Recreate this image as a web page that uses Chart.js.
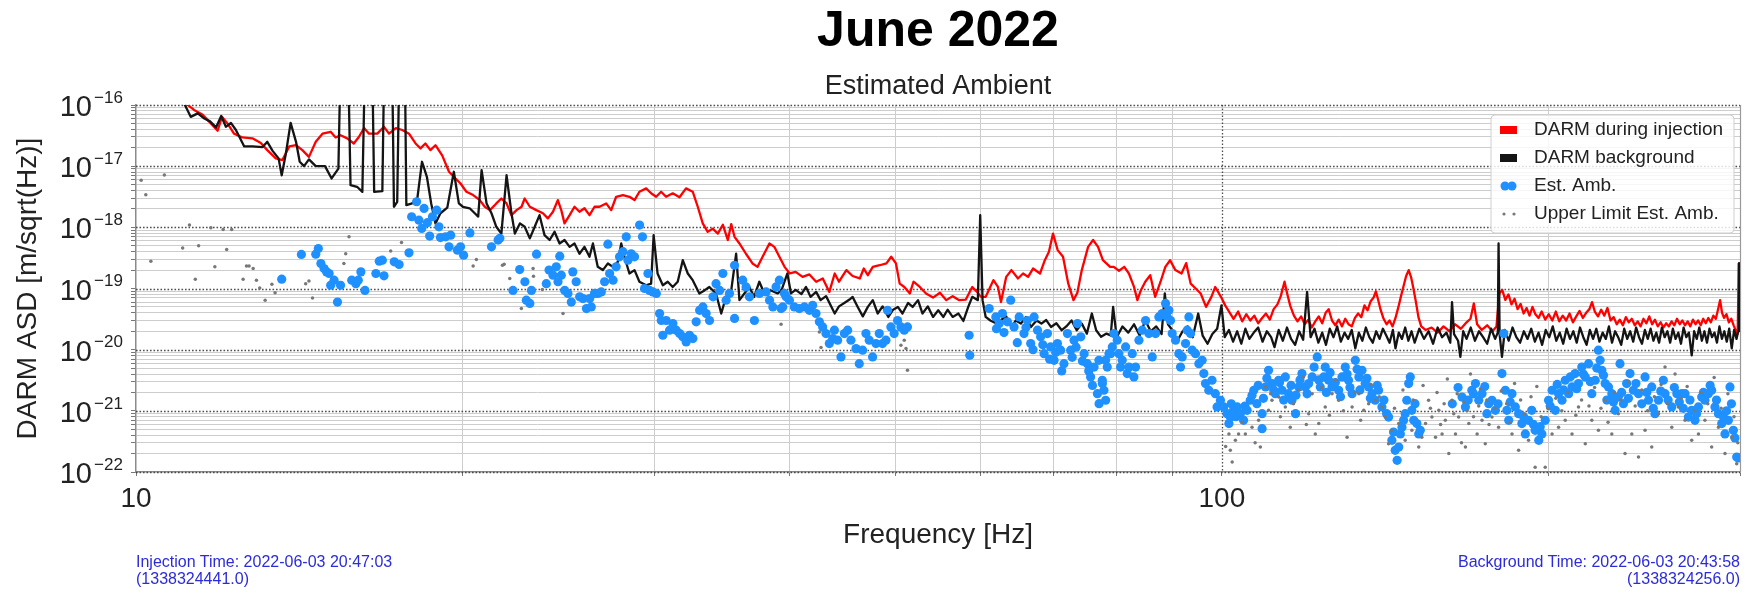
<!DOCTYPE html>
<html>
<head>
<meta charset="utf-8">
<script src="https://cdn.jsdelivr.net/npm/chart.js@4/dist/chart.umd.min.js"></script>
<style>
  html, body { margin: 0; padding: 0; background: #fff; }
  #wrap { position: relative; width: 1754px; height: 598px; }
  canvas { display: block; }
  .note { position: absolute; font: 16px "Liberation Sans", Arial, sans-serif; color: #2b2bdc; line-height: 17px; white-space: nowrap; }
</style>
</head>
<body>
<div id="wrap">
  <canvas id="ambChart" width="1754" height="598"></canvas>
  <div class="note" style="left:136px; top:553px;">Injection Time: 2022-06-03 20:47:03<br>(1338324441.0)</div>
  <div class="note" style="right:14px; top:553px; text-align:right;">Background Time: 2022-06-03 20:43:58<br>(1338324256.0)</div>
</div>
<script>
// [frequency Hz, ASD m/sqrt(Hz)]
const injection = [
  [11.05,1.15e-16],[11.31,8.3e-17],[11.52,6.9e-17],[11.72,5.0e-17],[11.89,3.8e-17],[12.0,6.4e-17],[12.14,5.0e-17],[12.31,3.4e-17],
  [12.53,2.95e-17],[12.8,2.85e-17],[13.03,2.4e-17],[13.21,1.83e-17],[13.45,1.34e-17],[13.64,1.26e-17],[13.84,2.1e-17],[14.04,2.2e-17],
  [14.23,1.83e-17],[14.43,1.42e-17],[14.64,2.5e-17],[14.85,3.4e-17],[15.11,3.65e-17],[15.27,2.95e-17],[15.43,3.2e-17],[15.65,2.85e-17],
  [15.87,2.35e-17],[16.04,3.0e-17],[16.22,4.2e-17],[16.39,3.4e-17],[16.68,3.4e-17],[16.92,4.4e-17],[17.1,3.4e-17],[17.35,4.2e-17],
  [17.59,3.9e-17],[17.84,3.4e-17],[18.09,2.35e-17],[18.28,1.95e-17],[18.47,2.35e-17],[18.67,1.83e-17],[18.87,2.2e-17],[19.14,1.5e-17],
  [19.42,8.1e-18],[19.69,6.3e-18],[19.9,5.2e-18],[20.15,3.82e-18],[20.44,3.37e-18],[20.73,2.79e-18],[20.95,2.17e-18],[21.18,1.91e-18],
  [21.47,2.46e-18],[21.7,2.96e-18],[21.94,2.46e-18],[22.17,1.58e-18],[22.41,1.91e-18],[22.65,2.17e-18],[22.8,2.96e-18],[23.05,2.17e-18],
  [23.37,1.91e-18],[23.7,1.7e-18],[23.95,1.4e-18],[24.21,1.8e-18],[24.46,2.79e-18],[24.64,1.91e-18],[24.81,1.16e-18],[25.08,1.58e-18],
  [25.34,2.17e-18],[25.61,1.8e-18],[25.88,2.05e-18],[26.16,1.58e-18],[26.44,2.17e-18],[26.72,2.17e-18],[27.1,2.46e-18],[27.39,1.91e-18],
  [27.68,3.16e-18],[28.08,3.37e-18],[28.47,3.16e-18],[28.78,2.79e-18],[29.08,3.82e-18],[29.5,4.33e-18],[29.81,3.6e-18],[30.13,3.16e-18],
  [30.45,3.82e-18],[30.77,3.16e-18],[31.21,3.6e-18],[31.66,3.1e-18],[32.1,4.33e-18],[32.56,3.82e-18],[32.91,2.17e-18],[33.26,1.16e-18],
  [33.61,8.45e-19],[33.97,9.5e-19],[34.34,7.9e-19],[34.71,1.1e-18],[35.08,6.2e-19],[35.33,1.13e-18],[35.58,7.0e-19],[35.95,5.45e-19],
  [36.45,3.7e-19],[36.96,2.57e-19],[37.36,2.26e-19],[37.76,3.3e-19],[38.31,5.45e-19],[38.71,4.8e-19],[39.13,3.3e-19],[39.56,2.26e-19],
  [40.0,1.76e-19],[40.5,1.87e-19],[41.1,1.55e-19],[41.7,1.7e-19],[42.3,1.29e-19],[42.9,1.46e-19],[43.5,8.8e-20],[44.0,1.76e-19],
  [44.4,1.29e-19],[45.1,2.0e-19],[45.7,1.6e-19],[46.4,1.46e-19],[46.8,2.12e-19],[47.2,1.65e-19],[47.7,2.26e-19],[48.4,2.4e-19],
  [49.1,2.57e-19],[49.6,3.3e-19],[50.1,2.57e-19],[50.5,1.2e-19],[51.0,1.06e-19],[51.6,8.3e-20],[52.0,1.29e-19],[52.7,1.06e-19],
  [53.4,8.3e-20],[54.2,7.1e-20],[55.0,8.5e-20],[55.75,6.45e-20],[56.5,7.5e-20],[57.3,6.45e-20],[58.1,6.6e-20],[58.9,1.06e-19],
  [59.5,8.8e-20],[60.0,7.3e-20],[60.6,7.3e-20],[61.1,1.0e-19],[61.6,1.37e-19],[62.2,1.06e-19],[62.6,6.0e-20],[63.3,1.55e-19],
  [64.0,2.0e-19],[64.9,1.46e-19],[65.6,1.76e-19],[66.3,1.55e-19],[67.0,2.12e-19],[68.0,1.76e-19],[68.7,2.9e-19],[69.3,3.98e-19],
  [69.9,7.9e-19],[70.6,4.24e-19],[71.4,3.3e-19],[72.2,1.2e-19],[73.0,6.45e-20],[73.6,8.5e-20],[74.3,2.0e-19],[75.3,4.8e-19],
  [76.1,6.2e-19],[76.9,4.8e-19],[77.7,2.9e-19],[78.9,2.26e-19],[79.5,2.26e-19],[80.4,1.95e-19],[81.3,2.26e-19],[82.1,1.76e-19],
  [83.0,1.06e-19],[83.6,6.45e-20],[84.2,9.3e-20],[85.0,1.29e-19],[85.9,1.65e-19],[86.8,7.3e-20],[87.8,1.29e-19],[88.7,2.26e-19],
  [89.6,2.9e-19],[90.6,2.0e-19],[91.8,1.76e-19],[92.7,2.6e-19],[93.6,1.2e-19],[94.6,1.0e-19],[95.6,8.3e-20],[96.7,5.0e-20],
  [97.8,7.3e-20],[98.6,1.06e-19],[99.8,7.3e-20],[100.7,5.3e-20],[101.7,4.0e-20],[102.5,3.2e-20],[103.5,4.2e-20],[104.4,2.9e-20],
  [105.3,3.8e-20],[106.2,3.0e-20],[107.1,3.6e-20],[108.0,2.7e-20],[108.9,3.3e-20],[109.8,3.9e-20],[110.7,3.1e-20],[111.6,4.6e-20],
  [112.5,5.5e-20],[113.3,7.5e-20],[114.2,1.29e-19],[114.9,8.0e-20],[115.6,5.2e-20],[116.5,3.6e-20],[117.4,2.9e-20],[118.3,3.5e-20],
  [119.2,2.6e-20],[120.1,3.1e-20],[121.0,2.3e-20],[121.9,2.9e-20],[122.8,3.5e-20],[123.7,2.7e-20],[124.6,4.0e-20],[125.4,4.6e-20],
  [126.3,3.0e-20],[127.2,2.5e-20],[128.1,3.1e-20],[129.0,2.4e-20],[129.9,3.2e-20],[130.8,2.6e-20],[131.7,2.4e-20],[132.6,3.3e-20],
  [133.5,3.9e-20],[134.4,3.4e-20],[135.3,5.3e-20],[136.2,4.4e-20],[137.1,6.2e-20],[138.0,7.2e-20],[138.6,9.0e-20],[139.3,6.5e-20],
  [140.0,4.5e-20],[140.9,3.2e-20],[141.8,2.6e-20],[142.7,3.0e-20],[143.6,2.4e-20],[144.5,3.3e-20],[145.4,5.0e-20],[146.2,7.5e-20],
  [147.0,1.1e-19],[147.8,1.6e-19],[148.6,2.0e-19],[149.4,1.5e-19],[150.1,1.0e-19],[150.9,6.0e-20],[151.7,3.4e-20],[152.6,2.4e-20],
  [154.0,2.1e-20],[156,2.3e-20],[158,1.9e-20],[160,2.4e-20],[162,2.0e-20],[164,2.6e-20],[166,2.2e-20],[168,2.8e-20],
  [169.4,3.2e-20],[170.6,5.7e-20],[171.8,2.6e-20],[173.5,2.1e-20],[175.5,2.5e-20],[177.5,2.0e-20],[179.0,2.4e-20],[180.1,8.3e-20],
  [181.2,9.5e-20],[182.4,6.5e-20],[183.6,8.0e-20],[184.8,5.5e-20],[186.0,6.8e-20],[187.2,4.6e-20],[188.4,5.6e-20],[189.6,3.9e-20],
  [190.8,4.8e-20],[192.0,3.6e-20],[193.2,5.0e-20],[194.4,3.8e-20],[195.7,3.3e-20],[197.0,4.2e-20],[198.5,3.1e-20],[200.0,3.8e-20],
  [201.5,3.0e-20],[203.0,4.2e-20],[204.5,2.9e-20],[206.0,3.6e-20],[207.5,3.0e-20],[209.0,3.9e-20],[210.5,2.8e-20],[212.0,3.5e-20],
  [213.5,4.3e-20],[215.0,3.3e-20],[216.5,4.0e-20],[218.0,4.6e-20],[219.2,6.0e-20],[220.5,4.2e-20],[222.0,3.5e-20],[223.5,4.5e-20],
  [225.0,3.6e-20],[226.5,4.8e-20],[228.0,3.0e-20],[229.5,3.4e-20],[231.0,2.6e-20],[232.5,3.1e-20],[234.0,2.5e-20],[235.5,3.4e-20],
  [237.0,2.8e-20],[238.5,3.2e-20],[240.0,2.5e-20],[241.5,2.9e-20],[243.0,2.4e-20],[244.5,3.2e-20],[246.0,2.7e-20],[247.5,3.5e-20],
  [249.0,2.6e-20],[250.5,3.1e-20],[252.0,2.4e-20],[253.5,2.8e-20],[255.0,2.3e-20],[256.5,2.7e-20],[258.0,2.4e-20],[259.5,2.9e-20],
  [261.0,2.5e-20],[262.5,3.2e-20],[264.0,2.6e-20],[265.5,3.0e-20],[267.0,2.5e-20],[268.5,2.9e-20],[270.0,2.4e-20],[271.5,3.1e-20],
  [273.0,2.6e-20],[274.5,3.0e-20],[276.0,2.5e-20],[277.5,3.2e-20],[279.0,2.7e-20],[280.5,3.3e-20],[282.0,2.8e-20],[283.5,3.6e-20],
  [285.0,3.2e-20],[286.3,4.5e-20],[287.6,6.45e-20],[288.8,4.0e-20],[290.0,3.3e-20],[291.5,3.8e-20],[293.0,2.8e-20],[294.5,3.2e-20],
  [296.0,2.5e-20],[297.5,2.0e-20],[298.5,1.8e-20],[299.3,2.57e-19],[301,2.57e-19]
];

const background = [
  [11.05,1.15e-16],[11.23,6.4e-17],[11.4,7.3e-17],[11.56,6.0e-17],[11.7,5.4e-17],[11.85,4.3e-17],[11.98,6.6e-17],[12.1,4.4e-17],
  [12.23,5.1e-17],[12.36,3.9e-17],[12.58,2.1e-17],[12.8,2.1e-17],[13.08,2.05e-17],[13.21,2.5e-17],[13.36,1.78e-17],[13.53,1.34e-17],
  [13.62,7.1e-18],[13.74,1.6e-17],[13.88,5.1e-17],[14.04,2.5e-17],[14.15,1.18e-17],[14.28,1.0e-17],[14.43,1.29e-17],[14.64,1.0e-17],
  [14.93,1.0e-17],[15.14,6.3e-18],[15.36,9.1e-18],[15.42,3e-16],[15.69,3e-16],[15.76,4.9e-18],[15.98,4.6e-18],[16.16,3.8e-18],
  [16.24,3e-16],[16.51,3e-16],[16.57,3.8e-18],[16.86,3.9e-18],[16.92,3e-16],[17.22,3e-16],[17.28,2.17e-18],[17.4,2.6e-18],
  [17.47,3e-16],[17.69,3e-16],[17.74,2.3e-18],[17.96,2.46e-18],[18.15,2.79e-18],[18.34,1.18e-17],[18.53,6.7e-18],[18.7,2.46e-18],
  [18.87,1.16e-18],[19.07,1.7e-18],[19.35,2.1e-18],[19.62,8.1e-18],[19.83,2.46e-18],[20.0,2.17e-18],[20.29,2.05e-18],[20.51,1.7e-18],
  [20.66,1.5e-18],[20.81,8.6e-18],[21.03,2.46e-18],[21.25,1.7e-18],[21.47,1.02e-18],[21.7,7.9e-19],[21.94,7.1e-18],[22.17,1.7e-18],
  [22.33,7.9e-19],[22.57,1.16e-18],[22.8,1.02e-18],[23.05,6.6e-19],[23.29,1.02e-18],[23.53,1.58e-18],[23.78,7.45e-19],[24.04,6.2e-19],
  [24.29,8.45e-19],[24.55,5.45e-19],[24.81,6.2e-19],[25.08,4.8e-19],[25.34,5.45e-19],[25.61,3.7e-19],[25.88,4.8e-19],[26.16,3.3e-19],
  [26.35,5.45e-19],[26.62,2.26e-19],[26.91,2.0e-19],[27.2,2.57e-19],[27.49,2.26e-19],[27.78,2.73e-19],[27.98,5.45e-19],[28.17,3.3e-19],
  [28.47,1.76e-19],[28.78,2.0e-19],[29.08,1.29e-19],[29.5,1.13e-19],[29.81,1.2e-19],[29.97,7.45e-19],[30.22,1.76e-19],[30.56,1.13e-19],
  [30.88,1.29e-19],[31.21,1.06e-19],[31.54,1.29e-19],[31.88,2.9e-19],[32.22,1.76e-19],[32.56,1.37e-19],[33.02,8.3e-20],[33.38,9.3e-20],
  [33.73,1.06e-19],[34.21,8.3e-20],[34.59,3.9e-20],[34.94,7.3e-20],[35.33,9.3e-20],[35.7,3.7e-19],[35.95,6.45e-20],[36.33,8.3e-20],
  [36.71,1.06e-19],[37.09,7.3e-20],[37.5,1.29e-19],[37.9,8.3e-20],[38.44,9.3e-20],[38.99,8.3e-20],[39.3,9.3e-20],[39.6,1.37e-19],
  [39.8,1.76e-19],[40.1,8.3e-20],[40.5,9.5e-20],[41.0,8.1e-20],[41.4,1.06e-19],[41.8,7.3e-20],[42.3,8.8e-20],[42.7,6.45e-20],
  [43.2,7.5e-20],[43.7,5.0e-20],[44.0,3.9e-20],[44.4,5.1e-20],[44.9,5.8e-20],[45.4,6.6e-20],[45.7,7.3e-20],[46.2,5.0e-20],
  [46.7,3.5e-20],[47.2,5.0e-20],[47.7,6.45e-20],[48.2,3.9e-20],[48.7,5.1e-20],[49.3,3.43e-20],[49.8,4.5e-20],[50.3,5.0e-20],
  [50.8,3.9e-20],[51.4,5.8e-20],[51.9,5.0e-20],[52.5,6.45e-20],[53.0,3.9e-20],[53.6,5.1e-20],[54.2,3.43e-20],[54.8,4.4e-20],
  [55.4,3.43e-20],[55.9,4.5e-20],[56.5,3.43e-20],[57.2,3.9e-20],[57.8,2.95e-20],[58.4,5.0e-20],[58.9,7.3e-20],[59.6,6.45e-20],
  [59.9,1.58e-18],[60.2,6.45e-20],[60.6,3.43e-20],[61.2,3.0e-20],[62.0,2.67e-20],[62.6,3.05e-20],[63.3,3.5e-20],[64.0,2.35e-20],
  [64.6,3.0e-20],[65.3,2.67e-20],[66.0,3.43e-20],[66.7,2.35e-20],[67.5,3.0e-20],[68.2,2.67e-20],[68.9,3.05e-20],[69.6,2.35e-20],
  [70.4,2.7e-20],[71.2,2.08e-20],[71.9,2.4e-20],[72.7,3.0e-20],[73.5,2.08e-20],[74.3,2.67e-20],[75.1,1.83e-20],[75.9,3.9e-20],
  [76.6,2.08e-20],[77.4,1.62e-20],[78.3,1.83e-20],[79,1.7e-20],[79.4,5.0e-20],[80,1.6e-20],[81,2.4e-20],[82,1.9e-20],
  [83,2.6e-20],[84,1.7e-20],[85,3.0e-20],[86,2.0e-20],[87,2.4e-20],[88,1.8e-20],[88.6,8.3e-20],[89.2,2.6e-20],
  [90,2.1e-20],[91,1.4e-20],[92,2.0e-20],[93,2.4e-20],[94,1.6e-20],[95.1,3.9e-20],[96,1.7e-20],[97,1.25e-20],
  [98,1.8e-20],[99,2.2e-20],[99.9,5.3e-20],[100.6,1.6e-20],[101.5,2.1e-20],[102.4,1.35e-20],[103.3,2.0e-20],[104.2,1.25e-20],
  [105.1,2.2e-20],[106,1.5e-20],[107,1.9e-20],[108,2.3e-20],[109,1.35e-20],[110,2.0e-20],[111,1.6e-20],[111.8,1.1e-20],
  [112.8,2.1e-20],[113.8,1.4e-20],[114.8,2.3e-20],[115.8,1.5e-20],[116.8,1.2e-20],[117.8,2.0e-20],[118.8,1.45e-20],[119.8,8.8e-20],
  [120.7,1.6e-20],[121.7,2.2e-20],[122.7,1.3e-20],[123.7,1.9e-20],[124.7,1.2e-20],[125.7,2.2e-20],[126.7,1.6e-20],[127.7,2.4e-20],
  [128.7,1.35e-20],[129.7,1.9e-20],[130.7,1.5e-20],[131.7,2.1e-20],[132.7,1.05e-20],[133.7,1.9e-20],[134.7,1.4e-20],[135.7,2.3e-20],
  [136.7,1.6e-20],[137.7,1.3e-20],[138.7,2.0e-20],[139.7,1.5e-20],[140.7,2.2e-20],[141.7,1.7e-20],[142.7,1.3e-20],[143.7,2.1e-20],
  [144.5,1.05e-20],[145.5,1.9e-20],[146.5,1.5e-20],[147.5,2.3e-20],[148.5,1.4e-20],[149.5,2.0e-20],[150.5,1.3e-20],[152,2.2e-20],
  [153.5,1.5e-20],[155,2.0e-20],[156.5,1.25e-20],[158,2.3e-20],[159.5,1.6e-20],[161,1.9e-20],[162.3,1.3e-20],[162.9,6.0e-20],
  [163.6,1.8e-20],[165,1.4e-20],[165.8,7.6e-21],[166.8,2.0e-20],[168,1.5e-20],[169.5,2.3e-20],[171,1.4e-20],[172.5,2.0e-20],
  [174,1.6e-20],[175.5,1.25e-20],[177,2.2e-20],[178.5,1.5e-20],[179.5,1.9e-20],[179.8,5.45e-19],[180.2,1.8e-20],[181.1,7.6e-21],
  [182.2,2.1e-20],[183.7,1.4e-20],[185.2,2.3e-20],[186.7,1.6e-20],[188.2,1.3e-20],[189.7,2.0e-20],[191.2,1.5e-20],[192.7,2.2e-20],
  [194.2,1.35e-20],[195.7,1.9e-20],[197.2,1.2e-20],[198.7,2.1e-20],[200.2,1.6e-20],[201.7,2.4e-20],[203.2,1.4e-20],[204.7,1.9e-20],
  [206.2,1.25e-20],[207.7,2.2e-20],[209.2,1.5e-20],[210.7,2.0e-20],[212.2,1.3e-20],[213.7,2.3e-20],[215.2,1.6e-20],[216.7,1.2e-20],
  [218.2,2.1e-20],[219.7,1.5e-20],[221.2,2.2e-20],[222.7,1.35e-20],[224.2,1.9e-20],[225.7,1.5e-20],[227.2,2.4e-20],[228.7,1.3e-20],
  [230.2,2.0e-20],[231.7,1.6e-20],[233.2,1.2e-20],[234.7,2.2e-20],[236.2,1.5e-20],[237.7,2.0e-20],[239.2,1.35e-20],[240.7,2.3e-20],
  [242.2,1.6e-20],[243.7,1.25e-20],[245.2,2.1e-20],[246.7,1.5e-20],[248.2,2.2e-20],[249.7,1.4e-20],[251.2,1.9e-20],[252.7,1.3e-20],
  [254.2,2.3e-20],[255.7,1.6e-20],[257.2,2.0e-20],[258.7,1.3e-20],[260.2,2.2e-20],[261.7,1.5e-20],[263.2,1.9e-20],[264.7,1.25e-20],
  [266.2,2.3e-20],[267.7,1.6e-20],[269.2,1.9e-20],[270.8,8.1e-21],[272.2,2.0e-20],[273.7,1.5e-20],[275.2,2.3e-20],[276.7,1.4e-20],
  [278.2,2.0e-20],[279.7,1.3e-20],[281.2,2.2e-20],[282.7,1.6e-20],[284.2,1.9e-20],[285.7,1.3e-20],[287.2,2.4e-20],[288.7,1.5e-20],
  [290.2,2.0e-20],[291.7,1.35e-20],[293.2,2.2e-20],[294.8,1.05e-20],[296.3,2.1e-20],[297.8,1.5e-20],[298.8,2.0e-20],[299.3,2.57e-19],
  [301,2.57e-19]
];

const estAmb = [
  [13.62,1.42e-19],[14.2,3.6e-19],[14.64,3.64e-19],[14.72,4.5e-19],[14.8,2.56e-19],[14.9,2.12e-19],[14.98,1.87e-19],[15.06,1.76e-19],
  [15.11,1.13e-19],[15.22,1.37e-19],[15.33,6.0e-20],[15.43,1.13e-19],[15.8,1.37e-19],[15.94,1.2e-19],[16.02,1.37e-19],[16.11,1.87e-19],
  [16.25,9.3e-20],[16.63,1.76e-19],[16.75,2.8e-19],[16.86,2.9e-19],[16.92,1.61e-19],[17.29,2.73e-19],[17.47,2.47e-19],[17.84,3.83e-19],
  [17.94,1.49e-18],[18.13,2.62e-18],[18.22,1.31e-18],[18.33,9.6e-19],[18.42,2.04e-18],[18.55,1.19e-18],[18.64,7.2e-19],[18.75,1.49e-18],
  [18.92,1.91e-18],[19.01,1.02e-18],[19.07,6.8e-19],[19.28,7.0e-19],[19.42,4.8e-19],[19.49,7.45e-19],[19.77,4.24e-19],[19.9,4.8e-19],
  [20.03,3.5e-19],[20.3,8.1e-19],[21.25,4.8e-19],[21.55,6.2e-19],[21.63,6.6e-19],[22.24,9.3e-20],[22.56,2.04e-19],[22.81,1.29e-19],
  [22.88,6.45e-20],[23.05,5.7e-20],[23.13,9.3e-20],[23.38,3.64e-19],[23.87,1.2e-19],[24.01,2.0e-19],[24.21,1.65e-19],[24.38,2.26e-19],
  [24.47,1.29e-19],[24.56,3.38e-19],[24.64,1.65e-19],[24.82,9.3e-20],[24.99,8.3e-20],[25.17,6.0e-20],[25.25,1.87e-19],[25.43,1.29e-19],
  [25.62,7.3e-20],[25.8,6.85e-20],[25.99,4.7e-20],[26.17,6.85e-20],[26.26,5.0e-20],[26.44,8.3e-20],[26.63,8.3e-20],[26.82,8.8e-20],
  [27.01,1.29e-19],[27.2,5.3e-19],[27.3,1.76e-19],[27.5,1.37e-19],[27.68,2.26e-19],[27.88,3.3e-19],[28.08,4.0e-19],[28.28,7.0e-19],
  [28.38,2.9e-19],[28.58,3.7e-19],[28.78,3.3e-19],[29.09,1.09e-18],[29.27,7.0e-19],[29.4,1.0e-19],[29.61,1.76e-19],[29.71,9.3e-20],
  [29.92,8.8e-20],[30.14,8.3e-20],[30.35,3.9e-20],[30.46,3.0e-20],[30.56,1.72e-20],[30.78,3.0e-20],[31.0,2.08e-20],[31.22,2.67e-20],
  [31.44,2.08e-20],[31.67,1.83e-20],[31.88,1.62e-20],[32.11,1.34e-20],[32.34,1.72e-20],[32.57,1.52e-20],[32.8,2.85e-20],[33.04,4.4e-20],
  [33.27,5.0e-20],[33.5,3.9e-20],[33.74,3.0e-20],[33.99,7.3e-20],[34.21,1.2e-19],[34.47,9.3e-20],[34.71,1.76e-19],[34.95,6.45e-20],
  [35.2,8.3e-20],[35.58,2.4e-19],[35.58,3.24e-20],[36.2,1.37e-19],[36.46,1.06e-19],[36.72,7.3e-20],[37.11,3.0e-20],[37.51,8.3e-20],
  [38.04,8.8e-20],[38.32,6.45e-20],[38.59,5.0e-20],[38.85,1.06e-19],[39.27,4.7e-20],[39.55,8.3e-20],[39.13,1.37e-19],[39.41,5.0e-20],
  [39.69,7.3e-20],[39.97,6.45e-20],[40.39,5.0e-20],[40.82,4.7e-20],[41.26,5.0e-20],[41.7,4.4e-20],[41.99,5.3e-20],[42.29,3.9e-20],
  [42.59,2.85e-20],[42.89,2.35e-20],[43.19,1.83e-20],[43.5,1.26e-20],[43.81,1.52e-20],[43.97,2.08e-20],[44.27,1.43e-20],[44.59,7.6e-21],
  [44.91,1.83e-20],[45.22,2.08e-20],[45.54,1.43e-20],[46.03,1.04e-20],[46.35,5.9e-21],[46.68,9.8e-21],[47.01,1.83e-20],[47.34,1.43e-20],
  [47.68,7.6e-21],[48.02,1.26e-20],[48.36,1.83e-20],[48.69,1.26e-20],[49.05,1.43e-20],[49.21,4.4e-20],[49.56,2.35e-20],[49.91,1.83e-20],
  [50.27,3.0e-20],[50.63,2.35e-20],[50.99,2.08e-20],[51.34,2.35e-20],[58.51,1.72e-20],[58.59,8.1e-21],[61.05,4.7e-20],[61.91,3.43e-20],
  [62.0,2.2e-20],[62.36,2.67e-20],[62.79,3.9e-20],[63.0,1.9e-20],[63.46,2.85e-20],[63.9,6.45e-20],[64.36,2.35e-20],[64.8,1.3e-20],
  [65.06,3.43e-20],[65.73,1.83e-20],[66.0,2.3e-20],[66.2,3.0e-20],[66.67,1.26e-20],[67.0,1.0e-20],[67.15,3.43e-20],[67.64,2.08e-20],
  [68.09,1.62e-20],[68.4,1.2e-20],[68.59,8.6e-21],[69.08,1.83e-20],[69.4,7.0e-21],[69.55,1.11e-20],[70.06,6.7e-21],[70.3,9.0e-21],
  [70.56,1.26e-20],[71.04,9.8e-21],[71.2,4.5e-21],[71.54,5.9e-21],[72.07,1.83e-20],[72.56,9.8e-21],[72.8,7.5e-21],[73.09,1.43e-20],
  [73.4,1.1e-20],[73.62,2.67e-20],[74.14,1.62e-20],[74.4,6.5e-21],[74.67,8.6e-21],[75.18,5.9e-21],[75.4,4.5e-21],[75.7,3.58e-21],
  [76.0,2.6e-21],[76.26,5.2e-21],[76.8,1.91e-21],[77.07,1.31e-21],[77.61,2.79e-21],[78.14,6.7e-21],[78.71,8.6e-21],[77.05,6.7e-21],
  [77.6,3.16e-21],[77.87,2.17e-21],[78.15,1.49e-21],[78.42,5.2e-21],[78.98,8.6e-21],[79.26,1.11e-20],[79.54,1.83e-20],[80.1,1.43e-20],
  [80.38,8.6e-21],[80.67,5.2e-21],[80.95,6.7e-21],[81.53,1.11e-20],[81.82,4.06e-21],[82.11,5.2e-21],[82.69,8.6e-21],[82.98,3.58e-21],
  [83.27,5.2e-21],[83.87,1.43e-20],[84.46,2.08e-20],[85.06,3.0e-20],[85.66,1.83e-20],[86.27,7.6e-21],[86.88,1.83e-20],[87.49,3.43e-20],
  [88.11,3.9e-20],[88.74,5.7e-20],[89.05,3.43e-20],[89.37,4.4e-20],[89.68,3.0e-20],[90.0,1.83e-20],[90.64,1.43e-20],[91.28,8.6e-21],
  [91.6,5.2e-21],[91.93,7.6e-21],[92.58,1.26e-20],[92.91,2.08e-20],[93.24,3.43e-20],[93.56,1.83e-20],[93.9,9.8e-21],[94.56,8.6e-21],
  [95.23,5.9e-21],[95.9,6.7e-21],[96.24,4.06e-21],[96.58,2.79e-21],[97.26,2.17e-21],[97.93,3.16e-21],[98.62,1.91e-21],[98.98,1.16e-21],
  [99.69,1.49e-21],[100.4,1.16e-21],[101.1,9.0e-22],[101.5,6.2e-22],[101.8,7.9e-22],[102.0,1.3e-21],[102.5,1.02e-21],[103.0,8.0e-22],
  [103.3,1.16e-21],[104.0,9.0e-22],[104.7,7.0e-22],[105.0,1.2e-21],[105.5,1.02e-21],[106.2,1.49e-21],[106.6,1.8e-21],[107.0,2.17e-21],
  [107.7,1.31e-21],[108.0,2.6e-21],[108.9,9.0e-22],[108.9,5.1e-22],[109.2,1.6e-21],[109.7,2.46e-21],[110.0,3.4e-21],[110.4,4.6e-21],
  [111.2,2.79e-21],[111.6,2.2e-21],[112.0,1.91e-21],[112.8,3.16e-21],[113.0,2.9e-21],[113.6,2.17e-21],[114.0,1.5e-21],[114.4,3.58e-21],
  [115.2,1.91e-21],[115.8,2.6e-21],[116.0,1.49e-21],[116.9,9.0e-22],[117.0,1.8e-21],[117.7,2.46e-21],[118.0,3.2e-21],[118.5,4.06e-21],
  [119.4,2.46e-21],[119.8,1.9e-21],[120.2,2.79e-21],[121.1,3.58e-21],[121.6,5.2e-21],[122.4,7.6e-21],[122.8,3.2e-21],[123.2,2.46e-21],
  [124.1,3.58e-21],[124.5,5.2e-21],[124.8,2.0e-21],[125.4,3.16e-21],[125.8,4.2e-21],[126.3,2.46e-21],[127.2,2.9e-21],[128.1,2.17e-21],
  [128.6,1.7e-21],[129.0,3.58e-21],[129.9,5.2e-21],[130.4,4.0e-21],[130.8,3.16e-21],[131.2,2.4e-21],[131.8,1.91e-21],[132.7,6.7e-21],
  [133.2,4.8e-21],[133.7,3.58e-21],[134.0,2.2e-21],[134.6,4.6e-21],[135.5,2.79e-21],[136.0,3.4e-21],[136.5,2.46e-21],[137.0,1.6e-21],
  [137.5,1.91e-21],[138.4,1.49e-21],[139.0,2.6e-21],[139.4,2.17e-21],[140.4,1.16e-21],[141.0,1.5e-21],[141.8,9.0e-22],[142.4,7.9e-22],
  [143.4,3.3e-22],[143.9,4.5e-22],[144.4,2.26e-22],[145.0,1.55e-22],[145.5,2.56e-22],[146.0,4.2e-22],[146.5,5.4e-22],[147.0,7.0e-22],
  [147.5,9.0e-22],[148.0,1.49e-21],[148.6,2.79e-21],[149.1,3.58e-21],[149.6,1.02e-21],[150.2,7.0e-22],[150.6,1.31e-21],[151.2,6.2e-22],
  [151.8,4.2e-22],[152.3,4.8e-22],[163.0,1.3e-21],[165.0,2.4e-21],[166.4,1.68e-21],[167.6,1.16e-21],[168.6,1.5e-21],[169.9,2.17e-21],
  [170.5,1.9e-21],[171.2,2.79e-21],[172.4,1.49e-21],[173.6,1.91e-21],[174.6,2.5e-21],[175.4,9.0e-22],[176.1,1.31e-21],[177.3,1.49e-21],
  [178.6,1.02e-21],[179.6,1.3e-21],[181.1,4.06e-21],[181.8,1.83e-20],[182.4,2.17e-21],[183.0,1.02e-21],[183.7,7.0e-22],[184.3,1.4e-21],
  [185.0,1.91e-21],[186.3,1.16e-21],[187.6,9.0e-22],[188.9,6.2e-22],[189.6,8.0e-22],[190.3,4.2e-22],[191.6,7.0e-22],[192.9,1.02e-21],
  [193.6,6.0e-22],[194.3,4.8e-22],[195.8,3.3e-22],[196.4,5.5e-22],[197.1,4.2e-22],[198.5,7.0e-22],[199.9,1.49e-21],[200.6,1.2e-21],
  [201.4,2.17e-21],[202.8,1.02e-21],[203.6,2.7e-21],[204.2,1.91e-21],[205.7,1.49e-21],[206.4,2.2e-21],[207.1,3.16e-21],[208.6,1.91e-21],
  [209.4,3.6e-21],[210.1,2.46e-21],[211.5,4.06e-21],[212.2,2.3e-21],[213.0,2.79e-21],[214.5,5.2e-21],[215.2,4.0e-21],[216.1,3.58e-21],
  [217.6,5.9e-21],[218.4,3.0e-21],[219.1,1.91e-21],[220.7,3.16e-21],[221.4,5.0e-21],[222.2,9.8e-21],[223.0,6.7e-21],[223.8,4.6e-21],
  [224.6,3.8e-21],[225.4,2.79e-21],[226.2,1.5e-21],[227.0,2.46e-21],[228.6,1.91e-21],[229.4,1.4e-21],[230.2,1.02e-21],[231.8,1.68e-21],
  [232.6,5.9e-21],[233.4,2.0e-21],[234.3,1.31e-21],[235.9,2.79e-21],[236.8,1.6e-21],[237.6,4.06e-21],[239.3,2.17e-21],[240.6,2.8e-21],
  [241.9,1.91e-21],[243.6,1.3e-21],[245.3,3.58e-21],[246.2,2.0e-21],[247.1,1.49e-21],[248.8,2.46e-21],[249.6,1.1e-21],[250.5,9.0e-22],
  [252.4,1.49e-21],[253.6,2.1e-21],[255.0,3.16e-21],[255.9,1.91e-21],[257.6,1.5e-21],[259.6,1.16e-21],[261.0,2.4e-21],[262.4,1.91e-21],
  [263.8,1.4e-21],[265.2,1.91e-21],[266.0,1.1e-21],[267.0,1.91e-21],[268.9,7.9e-22],[269.8,1.5e-21],[270.8,1.02e-21],[272.7,7.0e-22],
  [273.6,9.0e-22],[274.7,1.16e-21],[276.6,1.68e-21],[277.6,2.0e-21],[278.5,1.49e-21],[280.5,1.91e-21],[281.6,2.6e-21],[282.5,2.17e-21],
  [284.5,1.16e-21],[285.4,1.5e-21],[286.6,9.0e-22],[288.6,6.2e-22],[289.6,8.0e-22],[290.6,4.2e-22],[291.6,1.0e-21],[292.7,7.0e-22],
  [293.7,2.46e-21],[294.6,1.3e-21],[295.8,4.8e-22],[296.8,3.6e-22],[297.9,1.76e-22],[299.0,1.7e-22]
];

const upperLimit = [
  [10.11,5.9e-18],[10.21,3.4e-18],[10.32,2.8e-19],[10.62,7.2e-18],[11.04,4.6e-19],[11.2,1.09e-18],[11.34,1.41e-19],[11.42,5.0e-19],
  [11.72,9.8e-19],[11.82,2.26e-19],[12.03,9.2e-19],[12.12,4.35e-19],[12.25,9.2e-19],[12.55,1.42e-19],[12.64,2.34e-19],[12.71,2.34e-19],
  [12.82,2.12e-19],[12.91,1.37e-19],[13.0,1.02e-19],[13.15,6.45e-20],[13.34,1.17e-19],[13.43,8.5e-20],[14.33,1.2e-19],[14.43,1.32e-19],
  [14.54,7.0e-20],[15.54,2.57e-19],[15.6,3.7e-19],[15.71,7.0e-19],[17.16,4.1e-19],[17.56,5.65e-19],[20.44,2.34e-19],[20.58,2.98e-19],
  [21.75,2.4e-19],[21.83,2.5e-19],[22.09,1.46e-19],[22.64,4.7e-20],[23.21,2.12e-19],[23.23,1.59e-19],[23.67,9.6e-20],[24.73,3.9e-20],
  [39.27,2.6e-20],[42.59,1.95e-20],[42.74,1.08e-20],[50.63,1.18e-20],[50.99,1.43e-20],[51.18,1.04e-20],[51.34,4.6e-21],
  [100.8,2.6e-22],[101.5,4.2e-22],[101.8,2.26e-22],[102.2,1.46e-22],[102.9,3.3e-22],[103.6,4.2e-22],[104.4,6.5e-22],[105.1,4.2e-22],
  [106.6,5.4e-22],[107.3,3.0e-22],[108.1,7.0e-22],[108.5,2.56e-22],[109.7,2.46e-21],[110.4,1.02e-21],[110.9,1.9e-21],[111.2,1.49e-21],
  [112.8,1.68e-21],[113.2,8.0e-22],[114.4,1.16e-21],[115.6,5.4e-22],[116.4,1.3e-21],[117.7,2.17e-21],[118.9,3.58e-21],[119.6,6.0e-22],
  [120.2,9.0e-22],[121.1,1.91e-21],[121.9,4.2e-22],[122.8,6.2e-22],[123.6,2.4e-21],[124.5,1.16e-21],[125.6,8.5e-22],[126.3,1.91e-21],
  [127.2,3.2e-21],[128.1,1.49e-21],[129.4,1.0e-21],[130.4,3.7e-22],[131.8,1.16e-21],[132.5,2.0e-21],[133.7,1.91e-21],[134.2,7.0e-22],
  [135.1,1.02e-21],[136.5,1.31e-21],[137.2,2.7e-21],[138.4,1.49e-21],[139.6,1.7e-21],[140.4,1.16e-21],[141.4,7.9e-22],[142.4,2.9e-22],
  [143.4,4.8e-22],[144.2,1.1e-21],[145.5,6.2e-22],[146.8,2.2e-21],[147.5,3.3e-22],[149.6,4.8e-22],[150.0,1.5e-21],[151.8,2.56e-22],
  [152.8,3.7e-22],[153.2,2.6e-21],[154.0,6.2e-22],[155.0,1.49e-21],[155.6,1.1e-21],[156.1,7.9e-22],[157.3,3.7e-22],[157.8,2.0e-21],
  [158.4,1.02e-21],[159.0,6.0e-22],[159.5,4.2e-22],[160.2,1.3e-21],[160.6,7.0e-22],[161.3,3.3e-21],[161.8,2.0e-22],[162.9,1.49e-21],
  [163.5,9.0e-22],[164.1,4.2e-22],[164.7,1.9e-21],[165.2,7.9e-22],[166.2,3.0e-22],[167.0,1.4e-21],[167.6,2.56e-22],[168.2,1.0e-21],
  [168.8,6.2e-22],[169.4,4.0e-21],[170.5,8.0e-22],[171.8,4.2e-22],[172.4,1.2e-21],[173.0,2.3e-21],[173.6,7.0e-22],[174.8,2.9e-22],
  [175.4,1.5e-21],[176.2,6.0e-22],[177.3,7.9e-22],[178.4,1.1e-21],[179.8,5.4e-22],[180.8,2.1e-21],[182.9,1.3e-21],[184.2,6.5e-22],
  [185.0,4.2e-22],[186.0,2.8e-21],[187.6,2.26e-22],[188.4,1.5e-21],[189.8,9.0e-22],[191.6,3.3e-22],[192.6,1.7e-21],[194.3,1.2e-22],
  [195.0,2.5e-21],[196.8,8.0e-22],[198.5,1.2e-22],[199.6,1.1e-21],[201.4,4.2e-22],[203.0,1.6e-21],[204.2,5.4e-22],[205.6,1.0e-21],
  [207.1,7.0e-22],[208.3,2.0e-21],[210.1,4.2e-22],[211.8,8.5e-22],[213.0,1.16e-21],[214.4,1.5e-21],[216.1,2.9e-22],[217.8,1.2e-21],
  [219.1,7.0e-22],[220.4,2.4e-21],[222.2,4.8e-22],[223.4,1.1e-21],[225.4,1.49e-21],[226.8,6.5e-22],[228.6,4.2e-22],[229.9,2.0e-21],
  [231.8,9.0e-22],[233.0,1.5e-21],[235.1,2.0e-22],[236.8,3.0e-21],[238.5,4.2e-22],[240.2,1.2e-21],[241.9,1.76e-22],[243.6,2.2e-21],
  [245.3,4.8e-22],[246.6,1.0e-21],[248.8,2.56e-22],[250.2,1.7e-21],[252.4,9.0e-22],[253.8,2.7e-21],[255.9,5.2e-21],[257.2,1.3e-21],
  [259.6,5.4e-22],[261.4,4.0e-21],[263.3,1.16e-21],[264.7,1.6e-21],[267.0,7.0e-22],[268.2,2.5e-21],[270.8,3.3e-22],[272.6,1.0e-21],
  [274.7,4.2e-22],[276.4,2.0e-21],[278.5,7.0e-22],[280.2,1.3e-21],[282.5,2.56e-22],[284.0,3.5e-21],[286.6,5.4e-22],[288.2,1.1e-21],
  [290.6,2.0e-22],[292.4,1.9e-21],[294.8,3.7e-22],[296.2,8.0e-22],[297.9,1.37e-22],[298.6,3.0e-22]
];

// axes
const xTickValues = [10, 20, 30, 40, 50, 60, 70, 80, 90, 100, 200, 300];
const xTickLabels = ['10', '', '', '', '', '', '', '', '', '100', '', ''];
const xMajorTicks = [100];
const yDecades = [-22, -21, -20, -19, -18, -17, -16];
const yMinorMantissas = [2, 3, 4, 5, 6, 7, 8, 9];

const legendItems = [
  { label: 'DARM during injection', kind: 'rect', color: 'rgb(255,0,0)' },
  { label: 'DARM background', kind: 'rect', color: 'rgb(20,20,20)' },
  { label: 'Est. Amb.', kind: 'dot', color: 'rgb(30,144,255)' },
  { label: 'Upper Limit Est. Amb.', kind: 'small', color: 'rgb(120,120,120)' }
];

const fontFamily = '"Liberation Sans", Arial, Helvetica, sans-serif';
Chart.defaults.font.family = fontFamily;
Chart.defaults.color = '#222';

const yTickValues = [];
yDecades.forEach(e => {
  yTickValues.push(Math.pow(10, e));
  if (e < -16) yMinorMantissas.forEach(m => yTickValues.push(m * Math.pow(10, e)));
});

const toXY = arr => arr.map(p => ({ x: p[0], y: p[1] }));
const isDecade = v => Math.abs(Math.log10(v) - Math.round(Math.log10(v))) < 1e-6;
const isMajorX = v => xMajorTicks.indexOf(v) >= 0 || v === 10;

const decor = {
  id: 'decor',
  beforeDatasetsDraw(chart) {
    const { ctx, chartArea: a, scales: { x, y } } = chart;
    ctx.save();
    ctx.strokeStyle = 'rgba(60,60,60,0.9)';
    ctx.lineWidth = 1.3;
    ctx.setLineDash([1.6, 1.9]);
    yDecades.forEach(e => {
      const py = Math.round(y.getPixelForValue(Math.pow(10, e))) + 0.5;
      ctx.beginPath(); ctx.moveTo(a.left, py); ctx.lineTo(a.right, py); ctx.stroke();
    });
    xMajorTicks.forEach(f => {
      const px = Math.round(x.getPixelForValue(f)) + 0.5;
      ctx.beginPath(); ctx.moveTo(px, a.top); ctx.lineTo(px, a.bottom); ctx.stroke();
    });
    ctx.setLineDash([]);
    ctx.strokeStyle = '#999';
    ctx.lineWidth = 1.2;
    ctx.beginPath(); ctx.moveTo(a.right + 0.5, a.top); ctx.lineTo(a.right + 0.5, a.bottom); ctx.stroke();
    ctx.restore();
  },
  afterDraw(chart) {
    const { ctx, scales: { y } } = chart;
    ctx.save();
    // y tick labels: 10 with a raised exponent
    ctx.fillStyle = '#222';
    yDecades.forEach(e => {
      const py = y.getPixelForValue(Math.pow(10, e));
      ctx.font = '29px ' + fontFamily;
      ctx.textAlign = 'right';
      ctx.textBaseline = 'middle';
      ctx.fillText('10', 92, py + 3);
      ctx.font = '17px ' + fontFamily;
      ctx.textAlign = 'left';
      ctx.fillText('\u2212' + Math.abs(e), 94, py - 7);
    });

    // legend box
    const bx = 1491, by = 115, bw = 243, bh = 118, r = 4;
    ctx.beginPath();
    ctx.moveTo(bx + r, by);
    ctx.arcTo(bx + bw, by, bx + bw, by + bh, r);
    ctx.arcTo(bx + bw, by + bh, bx, by + bh, r);
    ctx.arcTo(bx, by + bh, bx, by, r);
    ctx.arcTo(bx, by, bx + bw, by, r);
    ctx.closePath();
    ctx.fillStyle = 'rgba(255,255,255,0.82)';
    ctx.fill();
    ctx.strokeStyle = '#cfcfcf';
    ctx.lineWidth = 1;
    ctx.stroke();

    ctx.font = '19px ' + fontFamily;
    ctx.textAlign = 'left';
    ctx.textBaseline = 'middle';
    legendItems.forEach((it, i) => {
      const cy = 130 + i * 28;
      ctx.fillStyle = it.color;
      if (it.kind === 'rect') {
        ctx.fillRect(1500, cy - 4, 17, 8);
      } else if (it.kind === 'dot') {
        [1505, 1512].forEach(cx => { ctx.beginPath(); ctx.arc(cx, cy, 4.5, 0, Math.PI * 2); ctx.fill(); });
      } else {
        [1504, 1514].forEach(cx => { ctx.beginPath(); ctx.arc(cx, cy, 1.6, 0, Math.PI * 2); ctx.fill(); });
      }
      ctx.fillStyle = '#222';
      ctx.fillText(it.label, 1534, cy);
    });
    ctx.restore();
  }
};

new Chart(document.getElementById('ambChart'), {
  type: 'line',
  data: {
    datasets: [
      { label: 'DARM during injection', data: toXY(injection), borderColor: 'rgb(255,0,0)', borderWidth: 2.3,
        pointRadius: 0, borderJoinStyle: 'round', order: 4 },
      { label: 'DARM background', data: toXY(background), borderColor: 'rgb(20,20,20)', borderWidth: 2.3,
        pointRadius: 0, borderJoinStyle: 'round', order: 3 },
      { label: 'Est. Amb.', data: toXY(estAmb), showLine: false, pointRadius: 4.6,
        pointBackgroundColor: 'rgb(30,144,255)', pointBorderWidth: 0, order: 2, clip: 0 },
      { label: 'Upper Limit Est. Amb.', data: toXY(upperLimit), showLine: false, pointRadius: 1.75,
        pointBackgroundColor: 'rgb(120,120,120)', pointBorderWidth: 0, order: 1, clip: 0 }
    ]
  },
  options: {
    responsive: false,
    animation: false,
    events: [],
    layout: { padding: { left: 0, right: 14, top: 0, bottom: 0 } },
    plugins: {
      legend: { display: false },
      tooltip: { enabled: false },
      title: { display: true, text: 'June 2022', fullSize: false, color: '#000',
        font: { size: 50, weight: 'bold' }, padding: { top: 2, bottom: 4 } },
      subtitle: { display: true, text: 'Estimated Ambient', fullSize: false, color: '#222',
        font: { size: 27, weight: 'normal' }, padding: { top: 4, bottom: 2.6 } }
    },
    scales: {
      x: {
        type: 'logarithmic', min: 10, max: 300,
        afterBuildTicks: s => { s.ticks = xTickValues.map(v => ({ value: v })); },
        afterFit: s => { s.height = 126; },
        ticks: { autoSkip: false, maxRotation: 0, padding: 6, font: { size: 28 }, color: '#222',
          callback: (v, i) => xTickLabels[i] },
        grid: { color: c => (c.tick && isMajorX(c.tick.value)) ? 'rgba(0,0,0,0)' : 'rgb(205,205,205)',
          lineWidth: 1, drawTicks: true, tickLength: 4, tickColor: '#777' },
        border: { color: '#8a8a8a', width: 1.5 },
        title: { display: true, text: 'Frequency [Hz]', font: { size: 28 }, color: '#222', padding: { top: 0, bottom: 46 } }
      },
      y: {
        type: 'logarithmic', min: 1e-22, max: 1e-16,
        afterBuildTicks: s => { s.ticks = yTickValues.map(v => ({ value: v })); },
        afterFit: s => { s.width = 136; },
        ticks: { display: false },
        grid: { color: c => (c.tick && isDecade(c.tick.value)) ? 'rgba(0,0,0,0)' : 'rgb(205,205,205)',
          lineWidth: 1, drawTicks: true, tickLength: 5, tickColor: '#777' },
        border: { color: '#8a8a8a', width: 1.5 },
        title: { display: true, text: 'DARM ASD [m/sqrt(Hz)]', font: { size: 28 }, color: '#222', padding: { top: 11, bottom: 0 } }
      }
    }
  },
  plugins: [decor]
});
</script>
</body>
</html>
